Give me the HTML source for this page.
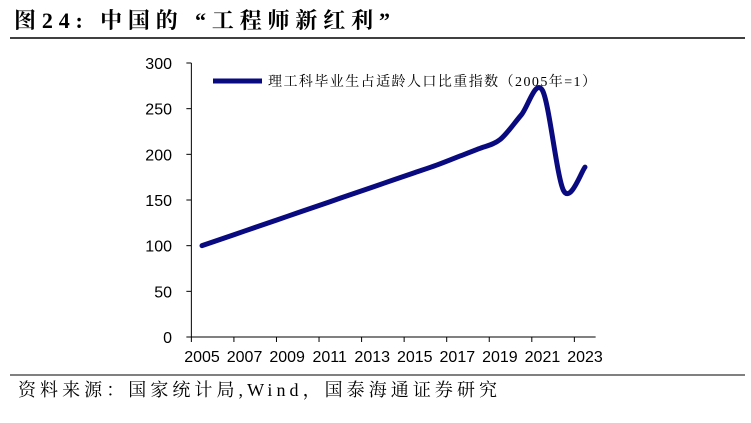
<!DOCTYPE html>
<html><head><meta charset="utf-8"><style>
body{margin:0;background:#fff;width:751px;height:418px;overflow:hidden;font-family:"Liberation Serif","Noto Serif CJK SC",serif}
</style></head><body>
<svg width="751" height="418" xmlns="http://www.w3.org/2000/svg">
<text x="14" y="28" font-size="22" font-weight="bold" fill="#000" textLength="376" lengthAdjust="spacing" font-family="Liberation Serif, Noto Serif CJK SC, serif">图24:  中国的 “工程师新红利”</text>
<line x1="10" y1="38" x2="745" y2="38" stroke="#000" stroke-width="1.5"/>
<line x1="10" y1="375" x2="745" y2="375" stroke="#000" stroke-width="1"/>
<text x="18" y="396" font-size="18" fill="#000" textLength="479" lengthAdjust="spacing" font-family="Liberation Serif, Noto Serif CJK SC, serif">资料来源：国家统计局,Wind，国泰海通证券研究</text>
<g id="axes"></g>
<g id="plot"></g>
<line x1="213" y1="81" x2="262" y2="81" stroke="#0a0a80" stroke-width="5"/>
<text x="268" y="86" font-size="14" fill="#000" textLength="328" lengthAdjust="spacing" font-family="Liberation Serif, Noto Serif CJK SC, serif">理工科毕业生占适龄人口比重指数（2005年=1）</text>
</svg>
<script>
const years=[2005,2006,2007,2008,2009,2010,2011,2012,2013,2014,2015,2016,2017,2018,2019,2020,2021,2022,2023];
const values=[100,108,116,124,132,140,148,156,164,172,180,188,197,206,216,243,270,160,186];
const yTicks=[0,50,100,150,200,250,300];
const xTicks=[2005,2007,2009,2011,2013,2015,2017,2019,2021,2023];
const NS="http://www.w3.org/2000/svg";
const X=v=>202+(v-2005)*(585-202)/18;
const Y=v=>337-v*(337-63)/300;
const axes=document.getElementById('axes'),plot=document.getElementById('plot');
function ln(x1,y1,x2,y2,name){const l=document.createElementNS(NS,'line');
l.setAttribute('x1',x1);l.setAttribute('y1',y1);l.setAttribute('x2',x2);l.setAttribute('y2',y2);l.setAttribute('stroke','#000');l.setAttribute('stroke-width','1');


axes.appendChild(l);}
const half=(585-202)/36;
ln(X(2005)-half,Y(0),X(2005)-half,Y(300),'y-axis-line');
ln(X(2005)-half,Y(0),X(2023)+half,Y(0),'x-axis-line');
yTicks.forEach(t=>{ln(X(2005)-half-5,Y(t),X(2005)-half,Y(t),'y-tick');
const e=document.createElementNS(NS,'text');
e.setAttribute('x',172);e.setAttribute('y',Y(t)+6);e.setAttribute('text-anchor','end');e.setAttribute('font-size','16');e.setAttribute('font-family','Liberation Sans, sans-serif');e.textContent=t;


axes.appendChild(e);});
xTicks.forEach(t=>{ln(X(t)-half,Y(0),X(t)-half,Y(0)+5,'x-tick');
const e=document.createElementNS(NS,'text');
e.setAttribute('x',X(t));e.setAttribute('y',362);e.setAttribute('text-anchor','middle');e.setAttribute('font-size','16');e.setAttribute('font-family','Liberation Sans, sans-serif');e.textContent=t;


axes.appendChild(e);});
const p=years.map((y,i)=>[X(y),Y(values[i])]);
let d='M'+p[0][0]+','+p[0][1];
for(let i=0;i<p.length-1;i++){const p0=p[Math.max(0,i-1)],p1=p[i],p2=p[i+1],p3=p[Math.min(p.length-1,i+2)];
const t=0.16;d+=' C'+(p1[0]+(p2[0]-p0[0])*t)+','+(p1[1]+(p2[1]-p0[1])*t)+' '+(p2[0]-(p3[0]-p1[0])*t)+','+(p2[1]-(p3[1]-p1[1])*t)+' '+p2[0]+','+p2[1];}
const path=document.createElementNS(NS,'path');
path.setAttribute('d',d);path.setAttribute('fill','none');path.setAttribute('stroke','#0a0a80');path.setAttribute('stroke-width','5');path.setAttribute('stroke-linejoin','round');path.setAttribute('stroke-linecap','round');


plot.appendChild(path);
</script>
</body></html>
